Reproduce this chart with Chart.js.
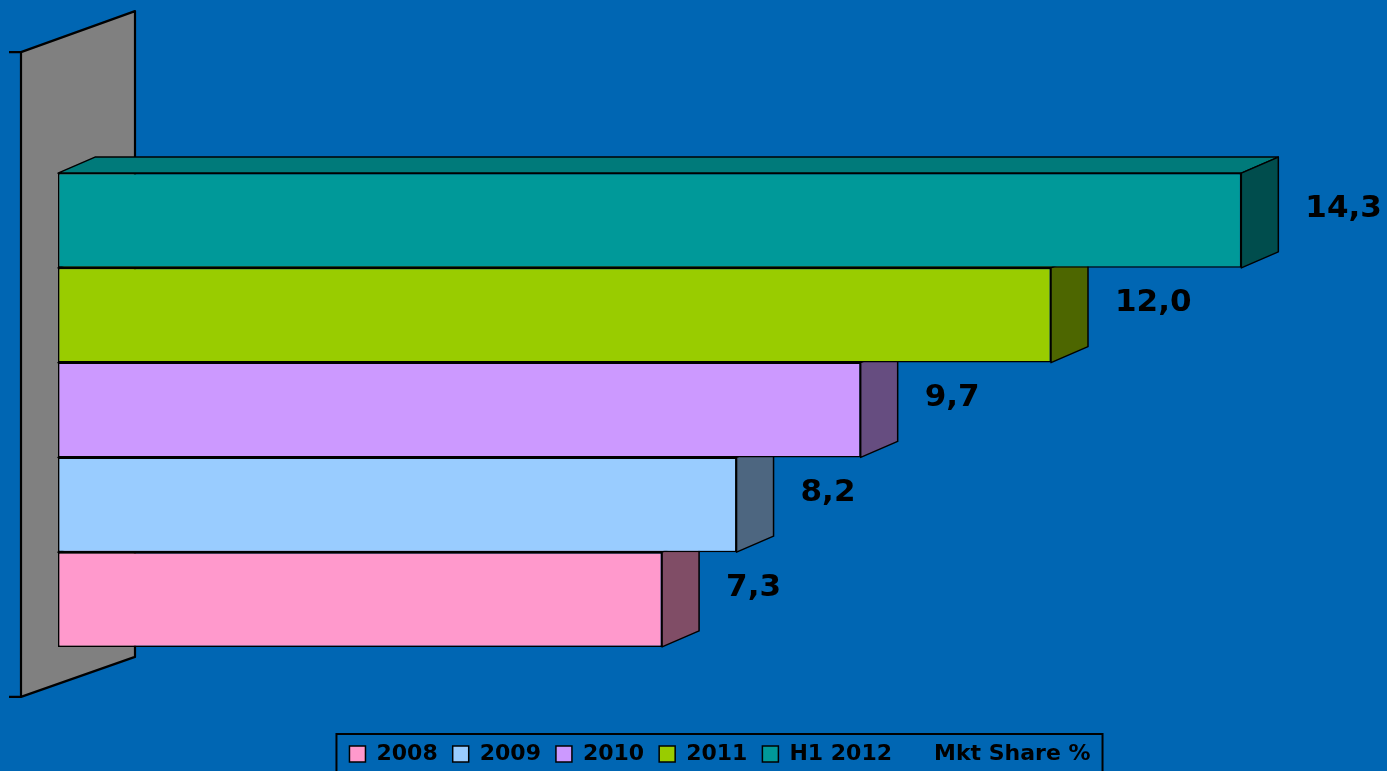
<!DOCTYPE html>
<html>
<head>
<meta charset="utf-8">
<title>Mkt Share %</title>
<script src="https://cdn.jsdelivr.net/npm/chart.js@4.4.1/dist/chart.umd.min.js"></script>
<style>
    html, body { margin: 0; padding: 0; background: #0066B3; }
    #wrap { width: 1387px; height: 771px; position: relative; }
</style>
</head>
<body>
<div id="wrap"><canvas id="shareChart"></canvas></div>
<script>
// market share by period
const periods = ['2008', '2009', '2010', '2011', 'H1 2012'];
const shareValues = [7.3, 8.2, 9.7, 12.0, 14.3];
const legendTitle = 'Mkt Share %';

const frontColors = ['#FF99CC', '#99CCFF', '#CC99FF', '#99CC00', '#009999'];

const DEPTH_X = 37;
const DEPTH_Y = 16;

function shade(hex, f) {
    const n = parseInt(hex.slice(1), 16);
    const r = Math.round(((n >> 16) & 255) * f);
    const g = Math.round(((n >> 8) & 255) * f);
    const b = Math.round((n & 255) * f);
    return `rgb(${r},${g},${b})`;
}

function fmt(v) {
    return v.toFixed(1).replace('.', ',');
}

function poly(ctx, pts, fill) {
    ctx.beginPath();
    ctx.moveTo(pts[0][0], pts[0][1]);
    for (let i = 1; i < pts.length; i++) ctx.lineTo(pts[i][0], pts[i][1]);
    ctx.closePath();
    ctx.fillStyle = fill;
    ctx.fill();
    ctx.stroke();
}

// datasets go top to bottom, so the latest period comes first
const datasets = periods.map((p, i) => ({
    label: p,
    data: [shareValues[i]],
    backgroundColor: frontColors[i],
    borderColor: '#000',
    borderWidth: 1.5,
    borderSkipped: false,
    colorIndex: i
})).reverse();

const bgPlugin = {
    id: 'bg',
    beforeDraw(chart) {
        const ctx = chart.ctx;
        ctx.save();
        ctx.fillStyle = '#0066B3';
        ctx.fillRect(0, 0, chart.width, chart.height);
        ctx.restore();
    }
};

// back wall + top/side faces of each bar
const depthPlugin = {
    id: 'depth3d',
    beforeDatasetsDraw(chart) {
        const ctx = chart.ctx;
        const metas = chart.getSortedVisibleDatasetMetas();
        let top = Infinity, bottom = -Infinity;
        metas.forEach(m => m.data.forEach(bar => {
            top = Math.min(top, bar.y - bar.height / 2);
            bottom = Math.max(bottom, bar.y + bar.height / 2);
        }));
        const x0 = chart.scales.x.getPixelForValue(0);

        ctx.save();
        ctx.strokeStyle = '#000';
        ctx.lineWidth = 2.2;
        ctx.lineJoin = 'round';

        // wall
        const wl = x0 - DEPTH_X, wr = x0 + 77;
        poly(ctx, [[wl, top - 121], [wr, top - 162], [wr, bottom + 10], [wl, bottom + 50]], '#808080');
        ctx.beginPath();
        ctx.moveTo(wl - 12, top - 121); ctx.lineTo(wl, top - 121);
        ctx.moveTo(wl - 12, bottom + 50); ctx.lineTo(wl, bottom + 50);
        ctx.stroke();

        ctx.lineWidth = 1.5;
        metas.forEach(meta => {
            const ci = chart.data.datasets[meta.index].colorIndex;
            const base = frontColors[ci];
            meta.data.forEach(bar => {
                const t = bar.y - bar.height / 2;
                const b = bar.y + bar.height / 2;
                poly(ctx, [[bar.base, t], [bar.x, t], [bar.x + DEPTH_X, t - DEPTH_Y], [bar.base + DEPTH_X, t - DEPTH_Y]], shade(base, 0.8));
                poly(ctx, [[bar.x, t], [bar.x + DEPTH_X, t - DEPTH_Y], [bar.x + DEPTH_X, b - DEPTH_Y], [bar.x, b]], shade(base, 0.5));
            });
        });
        ctx.restore();
    },
    afterDatasetsDraw(chart) {
        const ctx = chart.ctx;
        ctx.save();
        ctx.font = 'bold 31px "DejaVu Sans"';
        ctx.fillStyle = '#000';
        ctx.textBaseline = 'middle';
        ctx.textAlign = 'left';
        chart.getSortedVisibleDatasetMetas().forEach(meta => {
            const ds = chart.data.datasets[meta.index];
            meta.data.forEach((bar, j) => {
                ctx.fillText(fmt(ds.data[j]), bar.x + DEPTH_X + 27, bar.y - 12);
            });
        });
        ctx.restore();
    },
    afterDraw(chart) {
        const lg = chart.legend;
        if (!lg || !lg.legendHitBoxes.length) return;
        const hb = lg.legendHitBoxes;
        const first = hb[0], last = hb[hb.length - 1];
        const cy = first.top + first.height / 2;
        const ctx = chart.ctx;
        ctx.save();
        ctx.strokeStyle = '#000';
        ctx.lineWidth = 2;
        ctx.strokeRect(first.left - 13, cy - 20, last.left + last.width + 25 - first.left, 60);
        ctx.restore();
    }
};

const ctx = document.getElementById('shareChart').getContext('2d');
new Chart(ctx, {
    type: 'bar',
    data: { labels: [''], datasets: datasets },
    options: {
        indexAxis: 'y',
        responsive: true,
        maintainAspectRatio: false,
        animation: false,
        categoryPercentage: 0.745,
        barPercentage: 1,
        layout: { padding: { left: 58, right: 5, top: 92, bottom: -4 } },
        scales: {
            x: { min: 0, max: 16, display: false },
            y: { display: false }
        },
        plugins: {
            tooltip: { enabled: false },
            legend: {
                position: 'bottom',
                onClick: () => {},
                labels: {
                    boxWidth: 16,
                    boxHeight: 16,
                    padding: 15,
                    color: '#000',
                    font: { family: 'DejaVu Sans', weight: 'bold', size: 22 },
                    generateLabels: () => {
                        const items = periods.map((p, i) => ({
                            text: p,
                            fillStyle: frontColors[i],
                            strokeStyle: '#000',
                            lineWidth: 1.5,
                            hidden: false,
                            fontColor: '#000'
                        }));
                        items.push({
                            text: legendTitle,
                            fillStyle: 'rgba(0,0,0,0)',
                            strokeStyle: 'rgba(0,0,0,0)',
                            lineWidth: 0,
                            hidden: false,
                            fontColor: '#000'
                        });
                        return items;
                    }
                }
            }
        }
    },
    plugins: [bgPlugin, depthPlugin]
});
</script>
</body>
</html>
